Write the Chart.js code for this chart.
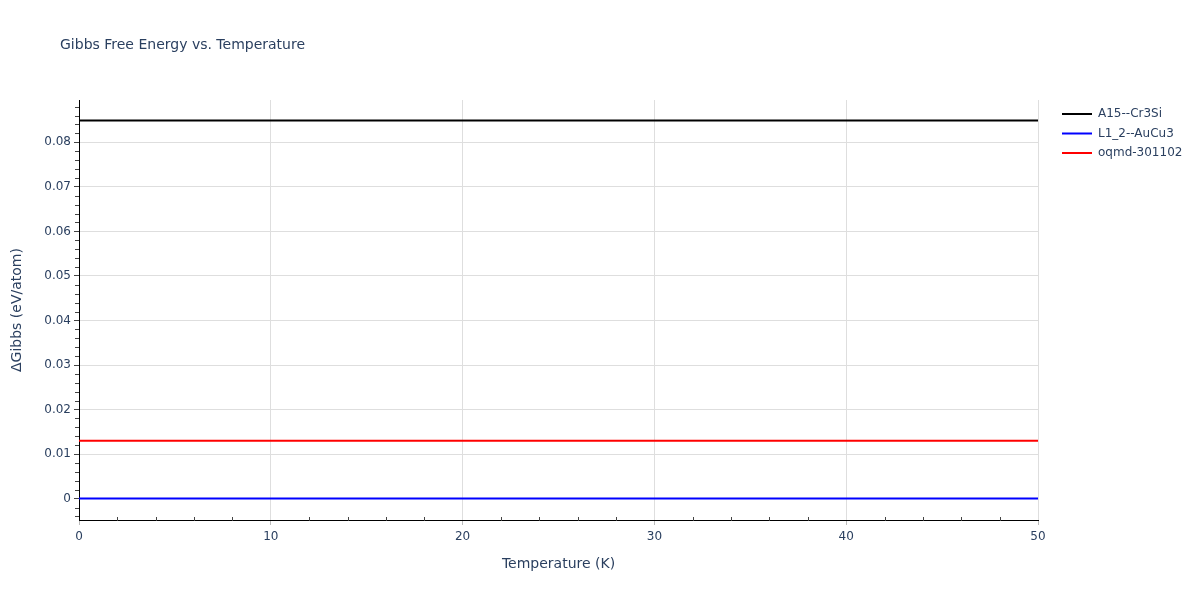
<!DOCTYPE html>
<html>
<head>
<meta charset="utf-8">
<script src="https://cdn.jsdelivr.net/npm/chart.js@4"></script>
<style>
  html, body { margin: 0; padding: 0; background: #fff; }
  #wrap { width: 1200px; height: 600px; }
</style>
</head>
<body>
<div id="wrap"><canvas id="chart1"></canvas></div>
<script>
const temperatures = [0, 10, 20, 30, 40, 50]
const a15Cr3Si = [0.0849, 0.0849, 0.0849, 0.0849, 0.0849, 0.0849]
const l12AuCu3 = [0, 0, 0, 0, 0, 0]
const oqmd301102 = [0.0130, 0.0130, 0.0130, 0.0130, 0.0130, 0.0130]

const seriesNames = ['A15--Cr3Si', 'L1_2--AuCu3', 'oqmd-301102']
const seriesColors = ['#000000', '#0000ff', '#ff0000']

const textColor = '#2a3f5f'
const fontFamily = '"DejaVu Sans", Verdana, sans-serif'

Chart.defaults.font.family = fontFamily
Chart.defaults.color = textColor

function toPoints(values) {
    return temperatures.map((t, i) => ({ x: t, y: values[i] }))
}

// title, legend and minor ticks
const extrasPlugin = {
    id: 'extras',
    afterDraw(chart) {
        const ctx = chart.ctx
        const xs = chart.scales.x
        const ys = chart.scales.y
        const area = chart.chartArea
        ctx.save()

        ctx.fillStyle = textColor
        ctx.font = '14px ' + fontFamily
        ctx.textBaseline = 'middle'
        ctx.textAlign = 'left'
        ctx.fillText('Gibbs Free Energy vs. Temperature', 60, 45)

        // minor ticks
        ctx.strokeStyle = '#444'
        ctx.lineWidth = 1
        ctx.beginPath()
        for (let k = -2; k <= 44; k++) {
            if (k % 5 === 0) continue
            const py = Math.round(ys.getPixelForValue(k * 0.002)) + 0.5
            if (py < area.top || py > area.bottom) continue
            ctx.moveTo(area.left - 4, py)
            ctx.lineTo(area.left, py)
        }
        for (let k = 1; k < 25; k++) {
            if (k % 5 === 0) continue
            const px = Math.round(xs.getPixelForValue(k * 2)) + 0.5
            ctx.moveTo(px, area.bottom - 3)
            ctx.lineTo(px, area.bottom + 1)
        }
        ctx.stroke()

        // legend
        ctx.font = '12px ' + fontFamily
        ctx.textBaseline = 'middle'
        chart.data.datasets.forEach((ds, i) => {
            const y = 114 + i * 19.5
            ctx.strokeStyle = ds.borderColor
            ctx.lineWidth = 2
            ctx.beginPath()
            ctx.moveTo(1062, y)
            ctx.lineTo(1092, y)
            ctx.stroke()
            ctx.fillStyle = textColor
            ctx.fillText(ds.label, 1098, y)
        })
        ctx.restore()
    }
}

const data = {
    datasets: [
        { label: seriesNames[0], data: toPoints(a15Cr3Si), borderColor: seriesColors[0] },
        { label: seriesNames[1], data: toPoints(l12AuCu3), borderColor: seriesColors[1] },
        { label: seriesNames[2], data: toPoints(oqmd301102), borderColor: seriesColors[2] }
    ]
}

const options = {
    responsive: true,
    maintainAspectRatio: false,
    animation: false,
    layout: { padding: { top: 100, right: 162, left: 0, bottom: 0 } },
    elements: {
        line: { borderWidth: 2, tension: 0 },
        point: { radius: 0, hoverRadius: 0 }
    },
    plugins: {
        legend: { display: false },
        tooltip: { enabled: false }
    },
    scales: {
        x: {
            type: 'linear',
            min: 0,
            max: 50,
            afterFit: s => { s.height = 80 },
            ticks: { stepSize: 10, padding: 5, font: { size: 12 }, color: textColor, maxRotation: 0 },
            grid: { color: '#dedede', tickLength: 5, tickColor: '#bbb' },
            border: { color: '#000', width: 1 },
            title: { display: true, text: 'Temperature (K)', font: { size: 14 }, color: textColor, padding: { top: 0, bottom: 27 } }
        },
        y: {
            min: -0.0048,
            max: 0.0895,
            afterFit: s => { s.width = 79 },
            ticks: {
                stepSize: 0.01,
                includeBounds: false,
                padding: 3,
                font: { size: 12 },
                color: textColor,
                callback: v => String(+v.toFixed(2))
            },
            grid: { color: '#dedede', tickLength: 5, tickColor: '#444' },
            border: { color: '#000', width: 1 },
            title: { display: true, text: 'ΔGibbs (eV/atom)', font: { size: 14 }, color: textColor, padding: { top: 9, bottom: 0 } }
        }
    }
}

new Chart('chart1', { type: 'line', data, options, plugins: [extrasPlugin] })
</script>
</body>
</html>
